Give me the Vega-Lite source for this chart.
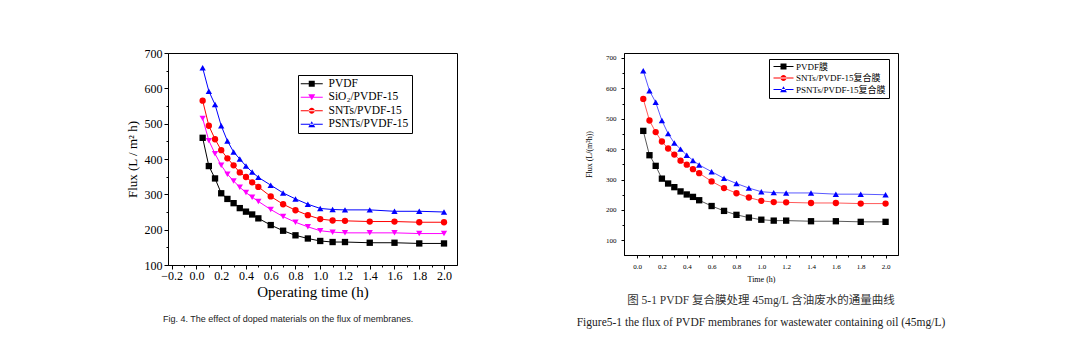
{
  "$schema": "https://vega.github.io/schema/vega-lite/v6.json",
  "padding": {"left": 125, "top": 46, "right": 5, "bottom": 5},
  "background": "white",
  "datasets": {
    "flux": [
      {"time": 0.05, "series": "PVDF", "flux": 460}, {"time": 0.1, "series": "PVDF", "flux": 380}, {"time": 0.15, "series": "PVDF", "flux": 345}, {"time": 0.2, "series": "PVDF", "flux": 303}, {"time": 0.25, "series": "PVDF", "flux": 287}, {"time": 0.3, "series": "PVDF", "flux": 275}, {"time": 0.35, "series": "PVDF", "flux": 261}, {"time": 0.4, "series": "PVDF", "flux": 251}, {"time": 0.45, "series": "PVDF", "flux": 243}, {"time": 0.5, "series": "PVDF", "flux": 232}, {"time": 0.6, "series": "PVDF", "flux": 213}, {"time": 0.7, "series": "PVDF", "flux": 197}, {"time": 0.8, "series": "PVDF", "flux": 184}, {"time": 0.9, "series": "PVDF", "flux": 175}, {"time": 1.0, "series": "PVDF", "flux": 168}, {"time": 1.1, "series": "PVDF", "flux": 165}, {"time": 1.2, "series": "PVDF", "flux": 165}, {"time": 1.4, "series": "PVDF", "flux": 163}, {"time": 1.6, "series": "PVDF", "flux": 163}, {"time": 1.8, "series": "PVDF", "flux": 161}, {"time": 2.0, "series": "PVDF", "flux": 161},
      {"time": 0.05, "series": "SiO₂/PVDF-15", "flux": 515}, {"time": 0.1, "series": "SiO₂/PVDF-15", "flux": 452}, {"time": 0.15, "series": "SiO₂/PVDF-15", "flux": 415}, {"time": 0.2, "series": "SiO₂/PVDF-15", "flux": 382}, {"time": 0.25, "series": "SiO₂/PVDF-15", "flux": 357}, {"time": 0.3, "series": "SiO₂/PVDF-15", "flux": 338}, {"time": 0.35, "series": "SiO₂/PVDF-15", "flux": 320}, {"time": 0.4, "series": "SiO₂/PVDF-15", "flux": 305}, {"time": 0.45, "series": "SiO₂/PVDF-15", "flux": 292}, {"time": 0.5, "series": "SiO₂/PVDF-15", "flux": 280}, {"time": 0.6, "series": "SiO₂/PVDF-15", "flux": 257}, {"time": 0.7, "series": "SiO₂/PVDF-15", "flux": 237}, {"time": 0.8, "series": "SiO₂/PVDF-15", "flux": 221}, {"time": 0.9, "series": "SiO₂/PVDF-15", "flux": 208}, {"time": 1.0, "series": "SiO₂/PVDF-15", "flux": 197}, {"time": 1.1, "series": "SiO₂/PVDF-15", "flux": 193}, {"time": 1.2, "series": "SiO₂/PVDF-15", "flux": 191}, {"time": 1.4, "series": "SiO₂/PVDF-15", "flux": 191}, {"time": 1.6, "series": "SiO₂/PVDF-15", "flux": 191}, {"time": 1.8, "series": "SiO₂/PVDF-15", "flux": 189}, {"time": 2.0, "series": "SiO₂/PVDF-15", "flux": 189},
      {"time": 0.05, "series": "SNTs/PVDF-15", "flux": 565}, {"time": 0.1, "series": "SNTs/PVDF-15", "flux": 494}, {"time": 0.15, "series": "SNTs/PVDF-15", "flux": 456}, {"time": 0.2, "series": "SNTs/PVDF-15", "flux": 425}, {"time": 0.25, "series": "SNTs/PVDF-15", "flux": 402}, {"time": 0.3, "series": "SNTs/PVDF-15", "flux": 382}, {"time": 0.35, "series": "SNTs/PVDF-15", "flux": 362}, {"time": 0.4, "series": "SNTs/PVDF-15", "flux": 349}, {"time": 0.45, "series": "SNTs/PVDF-15", "flux": 334}, {"time": 0.5, "series": "SNTs/PVDF-15", "flux": 321}, {"time": 0.6, "series": "SNTs/PVDF-15", "flux": 294}, {"time": 0.7, "series": "SNTs/PVDF-15", "flux": 272}, {"time": 0.8, "series": "SNTs/PVDF-15", "flux": 255}, {"time": 0.9, "series": "SNTs/PVDF-15", "flux": 241}, {"time": 1.0, "series": "SNTs/PVDF-15", "flux": 230}, {"time": 1.1, "series": "SNTs/PVDF-15", "flux": 226}, {"time": 1.2, "series": "SNTs/PVDF-15", "flux": 225}, {"time": 1.4, "series": "SNTs/PVDF-15", "flux": 223}, {"time": 1.6, "series": "SNTs/PVDF-15", "flux": 223}, {"time": 1.8, "series": "SNTs/PVDF-15", "flux": 221}, {"time": 2.0, "series": "SNTs/PVDF-15", "flux": 221},
      {"time": 0.05, "series": "PSNTs/PVDF-15", "flux": 658}, {"time": 0.1, "series": "PSNTs/PVDF-15", "flux": 592}, {"time": 0.15, "series": "PSNTs/PVDF-15", "flux": 554}, {"time": 0.2, "series": "PSNTs/PVDF-15", "flux": 494}, {"time": 0.25, "series": "PSNTs/PVDF-15", "flux": 451}, {"time": 0.3, "series": "PSNTs/PVDF-15", "flux": 420}, {"time": 0.35, "series": "PSNTs/PVDF-15", "flux": 400}, {"time": 0.4, "series": "PSNTs/PVDF-15", "flux": 380}, {"time": 0.45, "series": "PSNTs/PVDF-15", "flux": 363}, {"time": 0.5, "series": "PSNTs/PVDF-15", "flux": 348}, {"time": 0.6, "series": "PSNTs/PVDF-15", "flux": 326}, {"time": 0.7, "series": "PSNTs/PVDF-15", "flux": 304}, {"time": 0.8, "series": "PSNTs/PVDF-15", "flux": 287}, {"time": 0.9, "series": "PSNTs/PVDF-15", "flux": 272}, {"time": 1.0, "series": "PSNTs/PVDF-15", "flux": 260}, {"time": 1.1, "series": "PSNTs/PVDF-15", "flux": 257}, {"time": 1.2, "series": "PSNTs/PVDF-15", "flux": 256}, {"time": 1.4, "series": "PSNTs/PVDF-15", "flux": 256}, {"time": 1.6, "series": "PSNTs/PVDF-15", "flux": 252}, {"time": 1.8, "series": "PSNTs/PVDF-15", "flux": 252}, {"time": 2.0, "series": "PSNTs/PVDF-15", "flux": 250}
    ]
  },
  "config": {
    "view": {"stroke": "black", "strokeWidth": 1},
    "axis": {"grid": false, "domainColor": "black", "tickColor": "black", "labelColor": "black", "titleColor": "black", "titleFontWeight": "normal", "labelFont": "Liberation Serif", "titleFont": "Liberation Serif", "labelFlush": false, "labelOverlap": false},
    "legend": {"title": null, "orient": "none", "strokeColor": "black", "fillColor": "white", "labelFont": "Liberation Serif, Noto Sans CJK SC", "labelColor": "black", "symbolStrokeWidth": 1}
  },
  "resolve": {"scale": {"x": "independent", "y": "independent", "color": "independent", "shape": "independent"}, "legend": {"color": "independent", "shape": "independent"}},
  "spacing": 118,
  "hconcat": [
    {
      "width": 289,
      "height": 212,
      "data": {"name": "flux"},
      "title": {"text": "Fig. 4. The effect of doped materials on the flux of membranes.", "orient": "bottom", "anchor": "start", "frame": "group", "dx": -5, "offset": 16, "font": "Liberation Sans", "fontSize": 9, "fontWeight": "normal", "color": "#222222"},
      "encoding": {
        "x": {"field": "time", "type": "quantitative", "scale": {"domain": [-0.23, 2.105], "nice": false, "zero": false},
          "axis": {"title": "Operating time (h)", "values": [-0.2, -0.1, 0, 0.1, 0.2, 0.3, 0.4, 0.5, 0.6, 0.7, 0.8, 0.9, 1.0, 1.1, 1.2, 1.3, 1.4, 1.5, 1.6, 1.7, 1.8, 1.9, 2.0],
            "labelExpr": "abs(round(datum.value*10)) % 2 == 0 ? format(datum.value, '.1f') : ''",
            "tickSize": {"condition": {"test": "abs(round(datum.value*10)) % 2 == 1", "value": 2}, "value": 4},
            "labelFontSize": 12, "labelPadding": 1, "titleFontSize": 15, "titlePadding": 3}},
        "y": {"field": "flux", "type": "quantitative", "scale": {"domain": [100, 700], "nice": false, "zero": false},
          "axis": {"title": "Flux (L / m² h)", "values": [100, 150, 200, 250, 300, 350, 400, 450, 500, 550, 600, 650, 700],
            "labelExpr": "datum.value % 100 == 0 ? datum.label : ''",
            "tickSize": {"condition": {"test": "datum.value % 100 != 0", "value": 2}, "value": 4},
            "labelFontSize": 12, "labelPadding": 2, "titleFontSize": 13, "titlePadding": 5}},
        "color": {"field": "series", "type": "nominal",
          "scale": {"domain": ["PVDF", "SiO₂/PVDF-15", "SNTs/PVDF-15", "PSNTs/PVDF-15"], "range": ["#000000", "#ff00ff", "#ff0000", "#0000ff"]},
          "legend": {"legendX": 130, "legendY": 22, "padding": 3, "symbolSize": 100, "labelOffset": 16, "labelFontSize": 11.5, "rowPadding": 0.5,
            "encoding": {"symbols": {
              "shape": {"value": {"expr": "datum.value == 'PVDF' ? 'M-1.2,-0.1H3.2V0.1H-1.2ZM0.4,-0.6H1.6V0.6H0.4Z' : datum.value == 'SNTs/PVDF-15' ? 'M-1.2,-0.1H3.2V0.1H-1.2ZM0.4,0A0.6,0.6 0 1,0 1.6,0A0.6,0.6 0 1,0 0.4,0Z' : datum.value == 'PSNTs/PVDF-15' ? 'M-1.2,-0.1H3.2V0.1H-1.2ZM0.3,0.6H1.7L1,-0.6Z' : 'M-1.2,-0.1H3.2V0.1H-1.2ZM0.3,-0.6H1.7L1,0.6Z'"}},
              "fill": {"value": {"expr": "datum.value == 'PVDF' ? '#000000' : datum.value == 'SNTs/PVDF-15' ? '#ff0000' : datum.value == 'PSNTs/PVDF-15' ? '#0000ff' : '#ff00ff'"}},
              "strokeWidth": {"value": 0},
              "opacity": {"value": 1}
            }}}}
      },
      "layer": [
        {"mark": {"type": "line", "strokeWidth": 1}},
        {"mark": {"type": "point", "filled": true, "opacity": 1, "size": 40},
          "encoding": {"shape": {"field": "series", "type": "nominal", "legend": null,
            "scale": {"domain": ["PSNTs/PVDF-15", "SNTs/PVDF-15", "SiO₂/PVDF-15", "PVDF"], "range": ["triangle-up", "circle", "triangle-down", "square"]}}}}
      ]
    },
    {
      "width": 274,
      "height": 202,
      "data": {"name": "flux"},
      "transform": [{"filter": "datum.series != 'SiO₂/PVDF-15'"}],
      "title": {"text": "图 5-1 PVDF 复合膜处理 45mg/L 含油废水的通量曲线", "subtitle": "Figure5-1 the flux of PVDF membranes for wastewater containing oil (45mg/L)", "orient": "bottom", "anchor": "middle", "frame": "group", "offset": 12, "font": "Liberation Serif, Noto Sans CJK SC", "fontSize": 11.5, "fontWeight": "normal", "color": "#333333", "subtitleFont": "Liberation Serif", "subtitleFontSize": 11.5, "subtitleColor": "#222222", "subtitlePadding": 10},
      "encoding": {
        "x": {"field": "time", "type": "quantitative", "scale": {"domain": [-0.105, 2.1], "nice": false, "zero": false},
          "axis": {"title": "Time (h)", "values": [0, 0.1, 0.2, 0.3, 0.4, 0.5, 0.6, 0.7, 0.8, 0.9, 1.0, 1.1, 1.2, 1.3, 1.4, 1.5, 1.6, 1.7, 1.8, 1.9, 2.0],
            "labelExpr": "abs(round(datum.value*10)) % 2 == 0 ? format(datum.value, '.1f') : ''",
            "tickSize": {"condition": {"test": "abs(round(datum.value*10)) % 2 == 1", "value": 2}, "value": 3},
            "labelFontSize": 7, "labelPadding": 4, "titleFontSize": 8, "titlePadding": 6}},
        "y": {"field": "flux", "type": "quantitative", "scale": {"domain": [52, 716], "nice": false, "zero": false},
          "axis": {"title": "Flux (L/(m²h))", "values": [100, 150, 200, 250, 300, 350, 400, 450, 500, 550, 600, 650, 700],
            "labelExpr": "datum.value % 100 == 0 ? datum.label : ''",
            "tickSize": {"condition": {"test": "datum.value % 100 != 0", "value": 2}, "value": 3},
            "labelFontSize": 7, "labelPadding": 5, "titleFontSize": 8, "titlePadding": 12}},
        "color": {"field": "series", "type": "nominal",
          "scale": {"domain": ["PVDF", "SNTs/PVDF-15", "PSNTs/PVDF-15"], "range": ["#000000", "#ff0000", "#0000ff"]},
          "legend": {"legendX": 145, "legendY": 6, "padding": 3, "symbolSize": 64, "labelOffset": 15, "labelFontSize": 9, "rowPadding": 1.5,
            "labelExpr": "datum.label == 'PVDF' ? 'PVDF膜' : datum.label + '复合膜'",
            "encoding": {"symbols": {
              "shape": {"value": {"expr": "datum.value == 'PVDF' ? 'M-0.75,-0.12H4.25V0.12H-0.75ZM1,-0.75H2.5V0.75H1Z' : datum.value == 'SNTs/PVDF-15' ? 'M-0.75,-0.12H4.25V0.12H-0.75ZM1,0A0.75,0.75 0 1,0 2.5,0A0.75,0.75 0 1,0 1,0Z' : 'M-0.75,-0.12H4.25V0.12H-0.75ZM0.9,0.7H2.6L1.75,-0.8Z'"}},
              "fill": {"value": {"expr": "datum.value == 'PVDF' ? '#000000' : datum.value == 'SNTs/PVDF-15' ? '#ff0000' : '#0000ff'"}},
              "strokeWidth": {"value": 0},
              "opacity": {"value": 1}
            }}}}
      },
      "layer": [
        {"mark": {"type": "line", "strokeWidth": 1, "opacity": 0.65}},
        {"mark": {"type": "point", "filled": true, "opacity": 1, "size": 40},
          "encoding": {"shape": {"field": "series", "type": "nominal", "legend": null,
            "scale": {"domain": ["PSNTs/PVDF-15", "SNTs/PVDF-15", "PVDF"], "range": ["triangle-up", "circle", "square"]}}}}
      ]
    }
  ]
}
